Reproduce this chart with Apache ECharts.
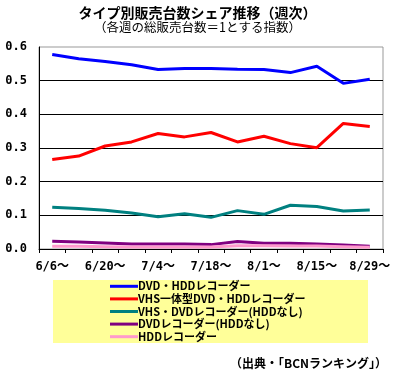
<!DOCTYPE html>
<html><head><meta charset="utf-8">
<script src="https://cdn.jsdelivr.net/npm/echarts@6/dist/echarts.min.js"></script>
<style>html,body{margin:0;padding:0;background:#fff}#c{width:395px;height:372px}</style>
</head><body><div id="c"></div>
<script>
const categories = ['6/6～','6/13～','6/20～','6/27～','7/4～','7/11～','7/18～','7/25～','8/1～','8/8～','8/15～','8/22～','8/29～'];
const seriesNames = ['DVD・HDDレコーダー','VHS一体型DVD・HDDレコーダー','VHS・DVDレコーダー(HDDなし)','DVDレコーダー(HDDなし)','HDDレコーダー'];
const dvdHdd      = [0.578,0.565,0.557,0.547,0.533,0.536,0.536,0.534,0.533,0.524,0.543,0.492,0.504];
const vhsDvdHdd   = [0.266,0.276,0.306,0.318,0.343,0.333,0.346,0.318,0.335,0.313,0.301,0.373,0.364];
const vhsDvd      = [0.124,0.120,0.115,0.107,0.096,0.105,0.094,0.114,0.103,0.130,0.126,0.113,0.116];
const dvdOnly     = [0.023,0.021,0.018,0.015,0.015,0.015,0.013,0.022,0.017,0.017,0.015,0.012,0.008];
const hddOnly     = [0.008,0.008,0.007,0.006,0.006,0.006,0.006,0.010,0.010,0.009,0.009,0.007,0.005];
const yTicks = [0.0,0.1,0.2,0.3,0.4,0.5,0.6];
const colors = ['#0000FF','#FF0000','#008080','#800080','#FF99CC'];
const allData = [dvdHdd, vhsDvdHdd, vhsDvd, dvdOnly, hddOnly];

const font = '"Noto Sans CJK JP", sans-serif';
const mono = '"DejaVu Sans Mono", "Noto Sans CJK JP", monospace';
const chart = echarts.init(document.getElementById('c'));
chart.setOption({
  animation: false,
  title: [
    {text: 'タイプ別販売台数シェア推移（週次）', left: 'center', top: 1,
     textStyle: {fontFamily: font, fontSize: 14, fontWeight: 'bold', color: '#000'}},
    {text: '（各週の総販売台数＝1とする指数）', left: 'center', top: 16,
     textStyle: {fontFamily: font, fontSize: 12.5, fontWeight: 'normal', color: '#000'}},
    {text: '（出典・「BCNランキング」）', right: 3, top: 352,
     textStyle: {fontFamily: font, fontSize: 12, fontWeight: 'bold', color: '#000'}}
  ],
  graphic: [{type: 'rect', left: 53, top: 280, shape: {width: 315, height: 63},
             style: {fill: '#FFFF99'}, z: -1}],
  legend: {
    orient: 'vertical', left: 110, top: 280, itemWidth: 28, itemHeight: 3,
    itemGap: 0, icon: 'rect', padding: 0,
    textStyle: {fontFamily: font, fontSize: 11, fontWeight: 'bold', color: '#000',
                lineHeight: 12.6, padding: [0,0,0,-5]},
    data: seriesNames
  },
  grid: {left: 39, top: 47, width: 344, height: 202, show: true,
         borderColor: '#999', borderWidth: 1, backgroundColor: 'transparent'},
  xAxis: {
    type: 'category', data: categories, boundaryGap: true,
    axisLine: {lineStyle: {color: '#000', width: 1}},
    axisTick: {show: true, interval: 0, length: 4, lineStyle: {color: '#000'}},
    axisLabel: {interval: 1, margin: 12, fontFamily: mono, fontSize: 12, fontWeight: 'bold', color: '#000'}
  },
  yAxis: {
    type: 'value', min: yTicks[0], max: yTicks[yTicks.length-1], interval: 0.1,
    axisLine: {show: true, lineStyle: {color: '#000', width: 1}},
    axisTick: {show: false},
    axisLabel: {margin: 12, fontFamily: mono, fontSize: 12, fontWeight: 'bold', color: '#000',
                formatter: v => v.toFixed(1)},
    splitLine: {show: true, showMaxLine: false, lineStyle: {color: '#000', width: 1}}
  },
  series: seriesNames.map((n, i) => ({
    name: n, type: 'line', data: allData[i], symbol: 'none',
    lineStyle: {color: colors[i], width: 3}, itemStyle: {color: colors[i]}
  }))
});
</script></body></html>
